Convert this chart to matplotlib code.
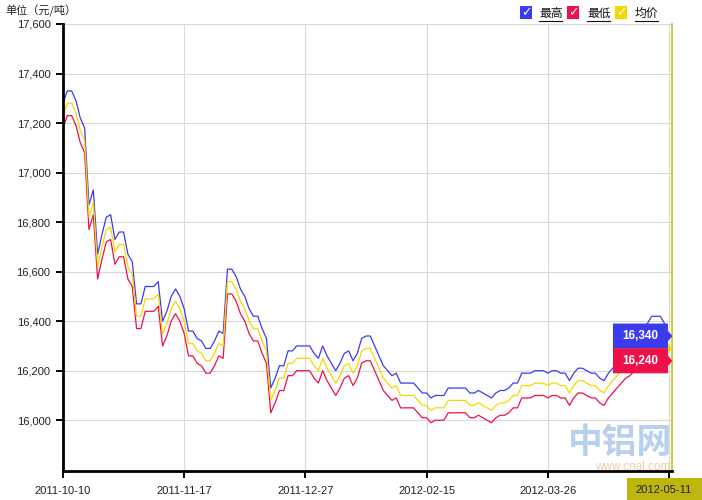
import numpy as np
import matplotlib
matplotlib.use("Agg")
import matplotlib.pyplot as plt
from matplotlib.patches import Polygon, Rectangle
from matplotlib.transforms import IdentityTransform
from matplotlib.lines import Line2D

plt.rcParams['font.family'] = ['Liberation Sans', 'Noto Sans CJK SC', 'DejaVu Sans']

# data (yuan / ton), one point per trading day
date_labels = ["2011-10-10", "2011-11-17", "2011-12-27", "2012-02-15", "2012-03-26", "2012-05-11"]
date_ticks = [0, 28, 56, 84, 112, 140]
y_ticks = [16000, 16200, 16400, 16600, 16800, 17000, 17200, 17400, 17600]
series_names = ["最高", "最低", "均价"]

high = [17280, 17330, 17330, 17290, 17220, 17180, 16870, 16930, 16670, 16750,
        16820, 16830, 16730, 16760, 16760, 16670, 16640, 16470, 16470, 16540,
        16540, 16540, 16560, 16400, 16440, 16500, 16530, 16500, 16450, 16360,
        16360, 16330, 16320, 16290, 16290, 16320, 16360, 16350, 16610, 16610,
        16580, 16530, 16500, 16450, 16420, 16420, 16370, 16330, 16130, 16170,
        16220, 16220, 16280, 16280, 16300, 16300, 16300, 16300, 16270, 16250,
        16300, 16260, 16230, 16200, 16230, 16270, 16280, 16240, 16270, 16330,
        16340, 16340, 16300, 16260, 16220, 16200, 16180, 16190, 16150, 16150,
        16150, 16150, 16130, 16110, 16110, 16090, 16100, 16100, 16100, 16130,
        16130, 16130, 16130, 16130, 16110, 16110, 16120, 16110, 16100, 16090,
        16110, 16120, 16120, 16130, 16150, 16150, 16190, 16190, 16190, 16200,
        16200, 16200, 16190, 16200, 16200, 16190, 16190, 16160, 16190, 16210,
        16210, 16200, 16190, 16190, 16170, 16160, 16190, 16210, 16230, 16250,
        16270, 16280, 16300, 16330, 16360, 16390, 16420, 16420, 16420, 16390,
        16340]

low = [17180, 17230, 17230, 17190, 17120, 17080, 16770, 16830, 16570, 16650,
       16720, 16730, 16630, 16660, 16660, 16570, 16540, 16370, 16370, 16440,
       16440, 16440, 16460, 16300, 16340, 16400, 16430, 16400, 16350, 16260,
       16260, 16230, 16220, 16190, 16190, 16220, 16260, 16250, 16510, 16510,
       16480, 16430, 16400, 16350, 16320, 16320, 16270, 16230, 16030, 16070,
       16120, 16120, 16180, 16180, 16200, 16200, 16200, 16200, 16170, 16150,
       16200, 16160, 16130, 16100, 16130, 16170, 16180, 16140, 16170, 16230,
       16240, 16240, 16200, 16160, 16120, 16100, 16080, 16090, 16050, 16050,
       16050, 16050, 16030, 16010, 16010, 15990, 16000, 16000, 16000, 16030,
       16030, 16030, 16030, 16030, 16010, 16010, 16020, 16010, 16000, 15990,
       16010, 16020, 16020, 16030, 16050, 16050, 16090, 16090, 16090, 16100,
       16100, 16100, 16090, 16100, 16100, 16090, 16090, 16060, 16090, 16110,
       16110, 16100, 16090, 16090, 16070, 16060, 16090, 16110, 16130, 16150,
       16170, 16180, 16200, 16230, 16260, 16290, 16320, 16320, 16320, 16290,
       16240]

avg = [17230, 17280, 17280, 17240, 17170, 17130, 16820, 16880, 16620, 16700,
       16770, 16780, 16680, 16710, 16710, 16620, 16590, 16420, 16420, 16490,
       16490, 16490, 16510, 16350, 16390, 16450, 16480, 16450, 16400, 16310,
       16310, 16280, 16270, 16240, 16240, 16270, 16310, 16300, 16560, 16560,
       16530, 16480, 16450, 16400, 16370, 16370, 16320, 16280, 16080, 16120,
       16170, 16170, 16230, 16230, 16250, 16250, 16250, 16250, 16220, 16200,
       16250, 16210, 16180, 16150, 16180, 16220, 16230, 16190, 16220, 16280,
       16290, 16290, 16250, 16210, 16170, 16150, 16130, 16140, 16100, 16100,
       16100, 16100, 16080, 16060, 16060, 16040, 16050, 16050, 16050, 16080,
       16080, 16080, 16080, 16080, 16060, 16060, 16070, 16060, 16050, 16040,
       16060, 16070, 16070, 16080, 16100, 16100, 16140, 16140, 16140, 16150,
       16150, 16150, 16140, 16150, 16150, 16140, 16140, 16110, 16140, 16160,
       16160, 16150, 16140, 16140, 16120, 16110, 16140, 16160, 16180, 16200,
       16220, 16230, 16250, 16280, 16310, 16340, 16370, 16370, 16370, 16340,
       16290]

BLUE = "#3c3cee"
RED = "#ee1048"
YELLOW = "#f5d800"
W, H = 702, 500

fig = plt.figure(figsize=(W / 100, H / 100), dpi=100)
ax = fig.add_axes([63 / W, 29 / H, 609 / W, 447 / H])

x = np.arange(len(high))
ax.plot(x, high, color=BLUE, lw=0.9, zorder=3)
ax.plot(x, low, color=RED, lw=0.9, zorder=3)
ax.plot(x, avg, color=YELLOW, lw=0.9, zorder=3)

ax.set_xlim(0, 140.7)
ax.set_ylim(15795, 17600)

ax.set_yticks(y_ticks)
ax.set_yticklabels([f"{v:,}" for v in y_ticks])
ax.set_xticks(date_ticks)
# last label is drawn as the highlighted hover label below
ax.set_xticklabels(date_labels[:-1] + [""])

ax.grid(True, color="#d9d9d9", lw=0.8, zorder=0)
ax.set_axisbelow(True)
for side in ["top", "right"]:
    ax.spines[side].set_visible(False)
for side in ["left", "bottom"]:
    ax.spines[side].set_linewidth(2.0)
    ax.spines[side].set_color("black")
    ax.spines[side].set_zorder(5)
ax.tick_params(axis="both", length=5, width=1.4, color="black",
               labelsize=8, labelcolor="#222222")
ax.tick_params(axis="y", pad=4)
ax.tick_params(axis="x", pad=6)

# hover crosshair
ax.axvline(140.7, color="#c9c01c", lw=1.2, zorder=4, clip_on=False)

fig.text(5 / W, 1 - 11 / H, "单位（元/吨）", fontsize=8, color="#222222",
         family=['Noto Sans CJK SC', 'DejaVu Sans'], va="center", ha="left")

# watermark
fig.text(620 / W, 1 - 443 / H, "中铝网", fontsize=25, color="#a9c8ea",
         family=['Noto Sans CJK SC'], weight="bold", ha="center", va="center",
         alpha=0.85)
fig.text(633 / W, 1 - 467 / H, "www.cnal.com", fontsize=8.5, color="#f6cba8",
         ha="center", va="center")

ident = IdentityTransform()


def tooltip(value, color, label, z):
    px, py = ax.transData.transform((140, value))
    tip = px + 3.5
    right = px - 1
    left = px - 56
    pts = [(left, py + 12.5), (right, py + 12.5), (right, py + 5), (tip, py),
           (right, py - 5), (right, py - 12.5), (left, py - 12.5)]
    fig.add_artist(Polygon(pts, closed=True, facecolor=color, edgecolor="none",
                           transform=ident, zorder=z))
    fig.text((left + right) / 2 / W, py / H, label, color="white", fontsize=8.5,
             weight="bold", ha="center", va="center", zorder=z + 0.1)


tooltip(avg[-1], YELLOW, f"{avg[-1]:,}", 10)
tooltip(high[-1], BLUE, f"{high[-1]:,}", 11)
tooltip(low[-1], RED, f"{low[-1]:,}", 12)

# highlighted date under crosshair
fig.add_artist(Rectangle((627, 0), 75, 22, facecolor="#bdb60c", edgecolor="none",
                         transform=ident, zorder=10))
fig.text(664 / W, 10 / H, date_labels[-1], fontsize=8, color="#222222",
         ha="center", va="center", zorder=11)

# legend with check boxes
legend_boxes = [520, 567, 615]
legend_text = [539, 587, 635]
for bx, tx, name, c in zip(legend_boxes, legend_text, series_names, [BLUE, RED, YELLOW]):
    fig.add_artist(Rectangle((bx, H - 19), 12, 13, facecolor=c, edgecolor="none",
                             transform=ident, zorder=10))
    fig.text((bx + 6) / W, 1 - 12.5 / H, "✓", color="white", fontsize=9,
             weight="bold", family=['DejaVu Sans'], ha="center", va="center",
             zorder=11)
    fig.text(tx / W, 1 - 13 / H, name, fontsize=8.5, color="#111111",
             family=['Noto Sans CJK SC'], ha="left", va="center")
    fig.add_artist(Line2D([tx, tx + 23], [H - 21, H - 21], color="#111111",
                          lw=0.8, transform=ident))

fig.savefig("out.png", dpi=100)
